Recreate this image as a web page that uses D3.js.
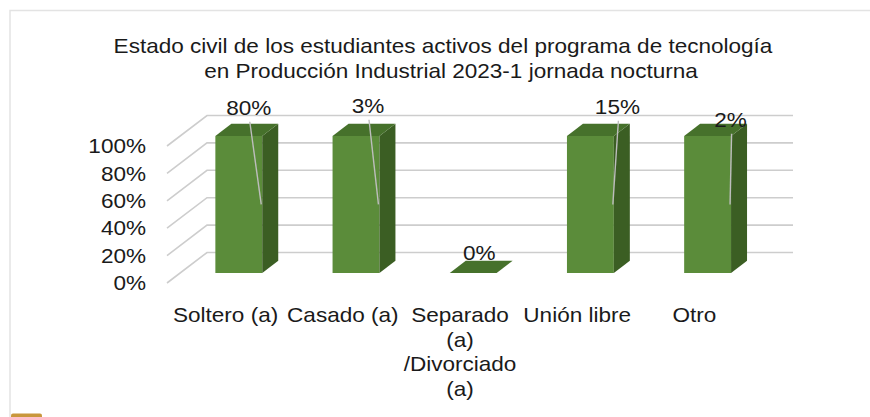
<!DOCTYPE html>
<html lang="es">
<head>
  <meta charset="UTF-8">
  <title>Estado civil</title>
  <script src="https://d3js.org/d3.v7.min.js"></script>
  <style>
    body { margin: 0; background: #fff; }
    svg { display: block; }
    text { font-family: "Liberation Sans", Arial, Helvetica, sans-serif; fill: #1a1a1a; }
  </style>
</head>
<body>
  <script>
    const categories = ["Soltero (a)", "Casado (a)", "Separado (a) /Divorciado (a)", "Unión libre", "Otro"];
    const barValues = [100, 100, 0, 100, 100];
    const labelValues = [80, 3, 0, 15, 2];
    const yTicks = [0, 20, 40, 60, 80, 100];
    const titleLines = [
      "Estado civil de los estudiantes activos del programa de tecnología",
      "en Producción Industrial 2023-1 jornada nocturna"
    ];

    // label nudges (dragged labels in the original)
    const labelNudge = [[10, 0], [12, -2], [6, 8], [27, -1], [23, 12]];
    const titleX = [443, 451];

    const W = 870, H = 417;
    const FS = 20.5, SX = 1.1;
    const DX = 40, DY = -30.5;     // full depth offset of the 3d box
    const z0 = 0.33, z1 = 0.73;    // bar front / back depth

    const svg = d3.select("body").append("svg").attr("width", W).attr("height", H);

    // frame
    svg.append("rect").attr("x", 10).attr("y", 10.5).attr("width", 900).attr("height", 460)
      .attr("fill", "none").attr("stroke", "#e3e3e3").attr("stroke-width", 1.5);
    svg.append("rect").attr("x", 11).attr("y", 413.5).attr("width", 31).attr("height", 8).attr("rx", 2)
      .attr("fill", "#c9973c");

    const x = d3.scaleBand().domain(categories).range([167, 753]).paddingInner(0.6).paddingOuter(0.3);
    const y = d3.scaleLinear().domain([0, 100]).range([283, 146]);
    const P = (px, py, z) => [px + z * DX, py + z * DY];
    const bw = x.bandwidth();

    function label(g, tx, ty, s, anchor) {
      return g.append("text")
        .attr("transform", `translate(${tx},${ty}) scale(${SX},1)`)
        .attr("text-anchor", anchor || "middle")
        .attr("dy", "0.35em")
        .attr("font-size", FS)
        .text(s);
    }

    // title
    const gt = svg.append("g");
    titleLines.forEach((t, i) => label(gt, titleX[i], 46 + i * 25, t));

    // gridlines
    const [x0, x1] = x.range();
    const grid = svg.append("g");
    yTicks.forEach(v => {
      const a = [x0, y(v)], b = P(x0, y(v), 1), c = P(x1, y(v), 1);
      grid.append("path")
        .attr("d", d3.line()([a, b, c]))
        .attr("fill", "none").attr("stroke", "#cdcdcd").attr("stroke-width", 1.6);
    });

    // y tick labels
    const gy = svg.append("g");
    yTicks.forEach(v => label(gy, 146, y(v), v + "%", "end"));

    // bars
    const bars = svg.append("g");
    categories.forEach((c, i) => {
      const xl = x(c), xr = x(c) + bw, yb = y(0), yt = y(barValues[i]);
      const poly = (pts, fill) => bars.append("path")
        .attr("d", d3.line()(pts) + "Z").attr("fill", fill);
      if (barValues[i] > 0) {
        poly([P(xl, yt, z0), P(xr, yt, z0), P(xr, yb, z0), P(xl, yb, z0)], "#5b8c3a");
        poly([P(xr, yt, z0), P(xr, yt, z1), P(xr, yb, z1), P(xr, yb, z0)], "#3b5e23");
      }
      poly([P(xl, yt, z0), P(xr, yt, z0), P(xr, yt, z1), P(xl, yt, z1)], "#46712b");
    });

    // data labels + leader lines
    const gl = svg.append("g");
    categories.forEach((c, i) => {
      const v = barValues[i];
      const front = P(x(c), y(v), z0);
      const back = P(x(c), y(v), z1);
      const lx = front[0] + bw / 2 + labelNudge[i][0];
      const ly = back[1] - 16 + labelNudge[i][1];
      if (v > 0) {
        const ex = front[0] + bw - 1;
        const ey = (P(0, y(v), z0)[1] + P(0, y(0), z0)[1]) / 2;
        gl.append("line")
          .attr("x1", lx + 1).attr("y1", ly + 14)
          .attr("x2", ex).attr("y2", ey)
          .attr("stroke", "#bdbdbd").attr("stroke-width", 1.4);
      }
      label(gl, lx, ly, labelValues[i] + "%");
    });

    // category labels (wrapped)
    const gx = svg.append("g");
    const maxW = 112;
    categories.forEach(c => {
      const words = c.split(" ");
      const lines = [];
      let cur = "";
      const probe = gx.append("text").attr("font-size", FS);
      words.forEach(w => {
        const test = cur ? cur + " " + w : w;
        probe.text(test);
        if (cur && probe.node().getComputedTextLength() * SX > maxW) {
          lines.push(cur); cur = w;
        } else cur = test;
      });
      lines.push(cur);
      probe.remove();
      lines.forEach((l, k) => label(gx, x(c) + bw / 2, 315 + k * 24.5, l));
    });
  </script>
</body>
</html>
